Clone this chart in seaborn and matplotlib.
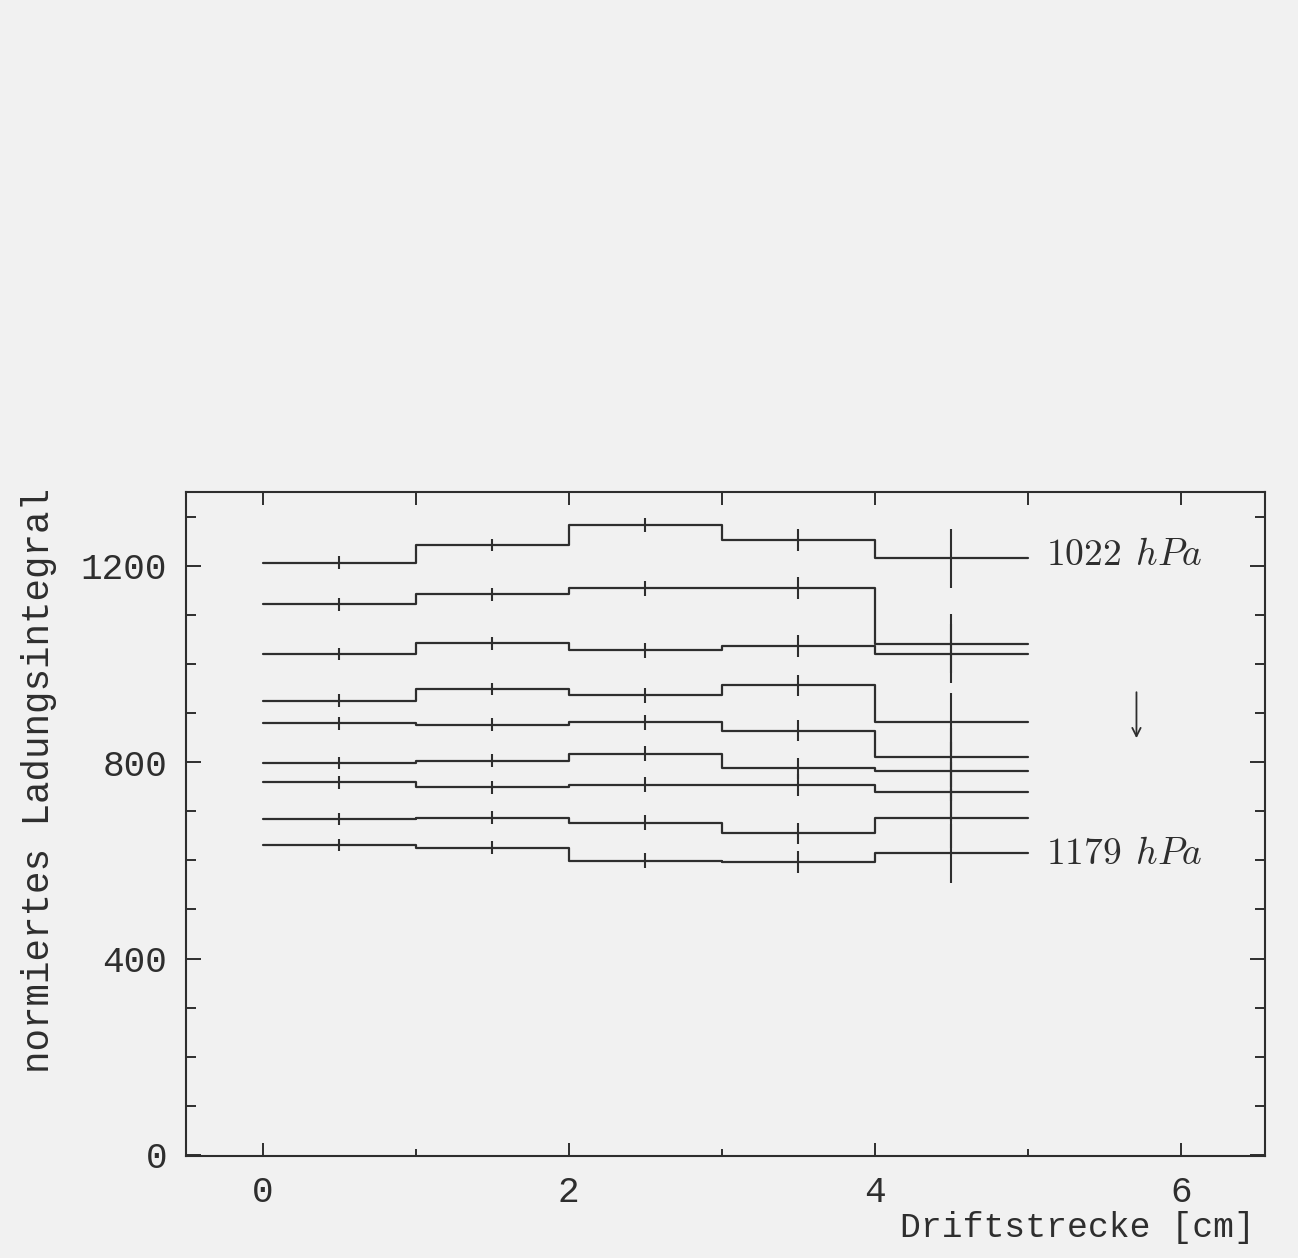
import numpy as np
import pandas as pd
import matplotlib
matplotlib.use("Agg")
import matplotlib.pyplot as plt
import seaborn as sns

# Daten: 9 Kurven (1022 hPa oben ... 1179 hPa unten), 5 Bins der Driftstrecke
bin_kanten = [0, 1, 2, 3, 4, 5]
bin_mitten = [0.5, 1.5, 2.5, 3.5, 4.5]
ladung = [
    [1206, 1242, 1283, 1252, 1215],
    [1121, 1142, 1154, 1154, 1041],
    [1020, 1042, 1028, 1036, 1021],
    [925, 949, 936, 956, 881],
    [879, 876, 881, 864, 810],
    [798, 803, 817, 787, 781],
    [759, 749, 754, 754, 740],
    [684, 687, 677, 655, 686],
    [631, 626, 599, 596, 614],
]
fehler = [13, 13, 15, 22, 60]
beschriftung_oben = "1022"
beschriftung_unten = "1179"

# Treppenkurven als Tabelle (letzter Wert am rechten Rand wiederholt)
rows = []
for i, werte in enumerate(ladung):
    for j, x in enumerate(bin_kanten):
        rows.append({"kurve": i, "x": x, "ladung": werte[min(j, len(werte) - 1)]})
df = pd.DataFrame(rows)

sns.set_style("ticks")
plt.rcParams["font.family"] = ["Liberation Mono", "DejaVu Sans Mono"]
plt.rcParams["mathtext.fontset"] = "cm"

ink = "#2e2e2e"
paper = "#f1f1f1"

fig, ax = plt.subplots(figsize=(12.98, 12.58), dpi=100)
fig.patch.set_facecolor(paper)
ax.set_facecolor(paper)
fig.subplots_adjust(left=0.1433, right=0.9746, top=0.6089, bottom=0.0811)

sns.lineplot(data=df, x="x", y="ladung", units="kurve", estimator=None,
             drawstyle="steps-post", color=ink, lw=1.6, legend=False, ax=ax)

for werte in ladung:
    ax.errorbar(bin_mitten, werte, yerr=fehler, fmt="none",
                ecolor=ink, elinewidth=1.5, capsize=0)

ax.text(5.12, 1201, r"$%s\;\,hPa$" % beschriftung_oben, fontsize=27,
        color=ink, ha="left", va="baseline")
ax.text(5.12, 593, r"$%s\;\,hPa$" % beschriftung_unten, fontsize=27,
        color=ink, ha="left", va="baseline")
ax.annotate("", xy=(5.71, 843), xytext=(5.71, 948),
            arrowprops=dict(arrowstyle="->,head_length=0.6,head_width=0.3",
                            color=ink, lw=1.3))

ax.set_xlim(-0.5, 6.55)
ax.set_ylim(-2, 1350)
ax.set_xticks([0, 2, 4, 6])
ax.set_xticks([1, 3, 5], minor=True)
ax.set_yticks([0, 400, 800, 1200])
ax.set_yticks(np.arange(0, 1400, 100), minor=True)

for s in ax.spines.values():
    s.set_color(ink)
    s.set_linewidth(1.5)

ax.tick_params(axis="both", which="both", direction="in", colors=ink,
               width=1.4, labelsize=26, pad=13.5, right=True)
ax.tick_params(axis="y", which="major", length=10.5)
ax.tick_params(axis="y", which="minor", length=7)
ax.tick_params(axis="x", which="major", length=9.5)
ax.tick_params(axis="x", which="minor", length=5)

top = ax.secondary_xaxis("top")
top.set_xticks(range(7))
top.tick_params(direction="in", length=9.5, width=1.4, colors=ink,
                labeltop=False)
top.spines["top"].set_visible(False)

ax.set_ylabel("normiertes Ladungsintegral", fontsize=27, color=ink)
ax.yaxis.set_label_coords(-0.12, 0.566)
ax.set_xlabel("Driftstrecke [cm]", fontsize=25, color=ink, ha="right")
ax.xaxis.label.set_va("center")
ax.xaxis.set_label_coords(0.9907, -0.108)

fig.savefig("out.png", dpi=100, facecolor=paper)
